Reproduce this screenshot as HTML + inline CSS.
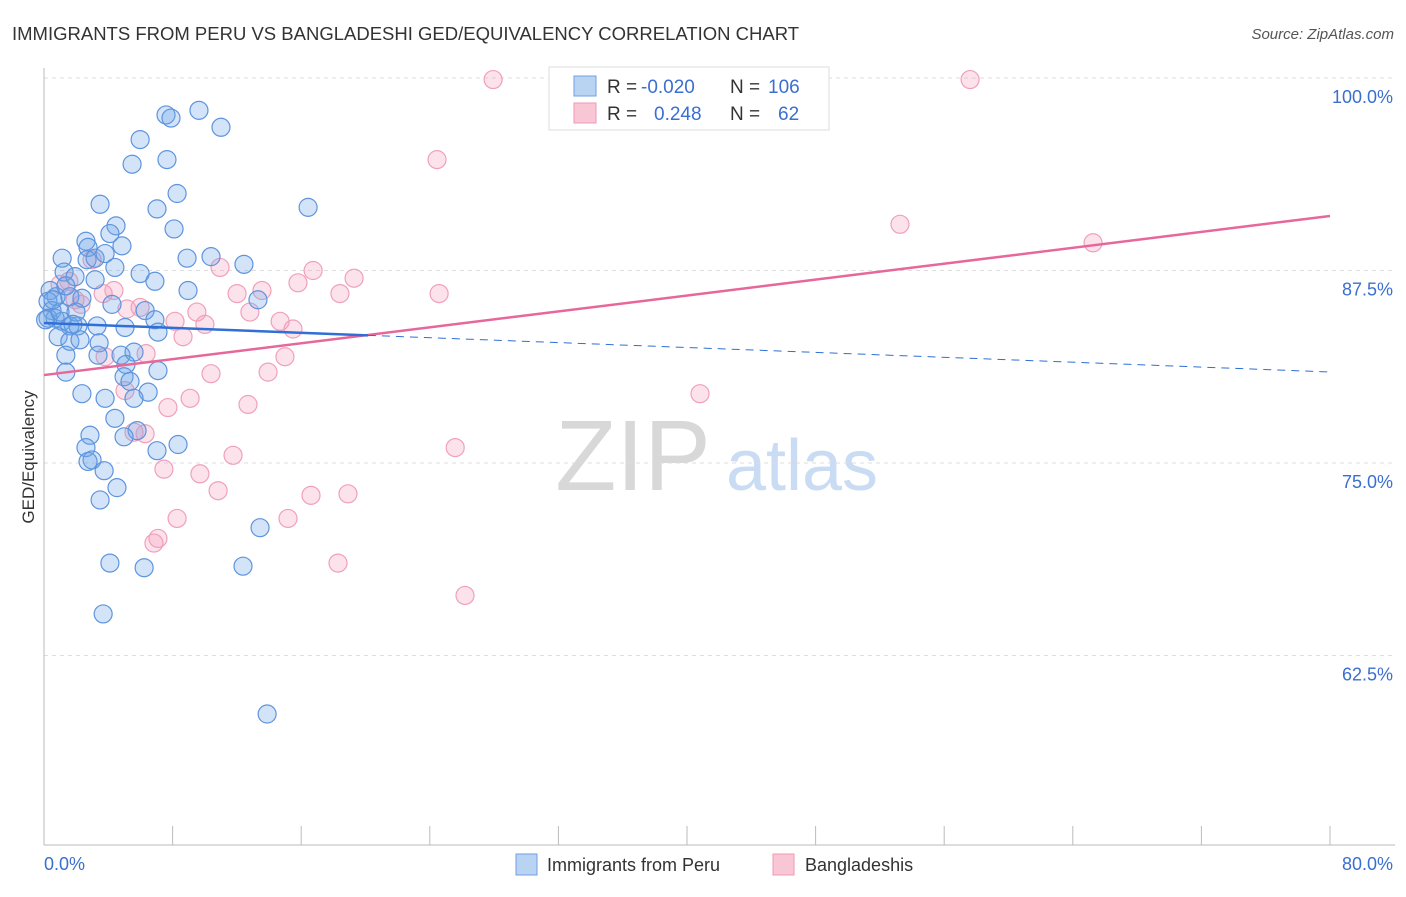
<!DOCTYPE html>
<html><head><meta charset="utf-8"><style>
body{margin:0;background:#fff;font-family:"Liberation Sans",sans-serif}
svg text{font-family:"Liberation Sans",sans-serif}
</style></head><body>
<svg id="chart" width="1406" height="892" viewBox="0 0 1406 892" xmlns="http://www.w3.org/2000/svg">
<text x="12" y="40" font-size="18.5" fill="#333">IMMIGRANTS FROM PERU VS BANGLADESHI GED/EQUIVALENCY CORRELATION CHART</text>
<text x="1394" y="39" font-size="15" fill="#555" text-anchor="end" font-style="italic">Source: ZipAtlas.com</text>
<g>
<text x="633" y="490" font-size="100" fill="#d8d8d8" text-anchor="middle" font-family="Liberation Serif, serif">ZIP</text>
<text x="802" y="490" font-size="72" fill="#c9dcf3" text-anchor="middle">atlas</text>
</g>
<g id="grid"></g>
<g id="axes"></g>
<g id="marks"></g>
<g id="trends"></g>
<text transform="translate(34,457) rotate(-90)" font-size="17" fill="#333" text-anchor="middle">GED/Equivalency</text>
<g>
<rect x="549" y="67" width="280" height="63" fill="#fff" stroke="#ddd"/>
<rect x="574" y="76" width="22" height="20" fill="#b9d3f3" stroke="#6f9fe0"/>
<rect x="574" y="103" width="22" height="20" fill="#f9c6d5" stroke="#ee9ab5"/>
<text x="607" y="93" font-size="19" fill="#333">R =</text>
<text x="641" y="93" font-size="19" fill="#3a6fd0">-0.020</text>
<text x="730" y="93" font-size="19" fill="#333">N =</text>
<text x="768" y="93" font-size="19" fill="#3a6fd0">106</text>
<text x="607" y="120" font-size="19" fill="#333">R =</text>
<text x="654" y="120" font-size="19" fill="#3a6fd0">0.248</text>
<text x="730" y="120" font-size="19" fill="#333">N =</text>
<text x="778" y="120" font-size="19" fill="#3a6fd0">62</text>
</g>
<g>
<rect x="516" y="854" width="21" height="21" fill="#b9d3f3" stroke="#6f9fe0"/>
<text x="547" y="871" font-size="18" fill="#333">Immigrants from Peru</text>
<rect x="773" y="854" width="21" height="21" fill="#f9c6d5" stroke="#ee9ab5"/>
<text x="805" y="871" font-size="18" fill="#333">Bangladeshis</text>
</g>
</svg>
<script>
const yTicks=[100,87.5,75,62.5];
const yTickLabels=["100.0%","87.5%","75.0%","62.5%"];
const xTicks=[0,8,16,24,32,40,48,56,64,72,80];
const xEndLabels=["0.0%","80.0%"];
const peruX=[7.59,7.9,9.64,11.01,5.98,5.48,7.65,8.28,7.03,8.09,3.49,4.48,4.1,2.61,2.74,4.85,1.13,2.68,3.18,3.8,4.41,5.98,1.25,1.93,3.18,6.9,8.9,10.39,12.44,16.43,8.96,13.31,0.38,0.75,1.61,2.36,4.23,6.29,0.25,0.5,0.69,1.13,1.61,2.11,3.3,5.04,6.9,7.09,0.88,1.61,2.24,3.43,1.36,3.36,4.79,5.6,5.1,1.36,4.98,5.35,7.09,2.36,6.48,3.8,5.6,4.41,5.79,4.98,2.86,2.61,2.99,2.74,3.74,4.54,3.49,7.03,8.34,13.44,4.1,6.23,12.38,3.68,13.88,0.25,0.1,1.0,1.99,0.56,1.36,1.8];
const peruY=[97.6,97.4,97.9,96.8,96.0,94.4,94.7,92.5,91.5,90.2,91.8,90.4,89.9,89.4,89.0,89.1,88.3,88.2,88.3,88.6,87.7,87.3,87.4,87.1,86.9,86.8,88.3,88.4,87.9,91.6,86.2,85.6,86.2,85.8,85.8,85.7,85.3,84.9,85.5,84.9,84.4,84.2,83.9,83.9,83.9,83.8,84.3,83.5,83.2,82.9,83.0,82.8,82.0,82.0,82.0,82.2,81.4,80.9,80.6,80.3,81.0,79.5,79.6,79.2,79.2,77.9,77.1,76.7,76.8,76.0,75.2,75.1,74.5,73.4,72.6,75.8,76.2,70.8,68.5,68.2,68.3,65.2,58.7,84.4,84.3,84.8,84.8,85.6,86.5,84.0];
const bangX=[27.94,57.61,24.45,53.25,65.26,2.99,10.95,16.74,19.29,15.8,12.01,13.56,18.41,24.58,1.55,4.35,3.68,2.3,5.16,5.98,9.51,12.81,8.15,10.01,14.69,15.49,8.65,6.35,3.8,14.99,10.39,13.94,5.04,9.09,7.71,12.69,40.81,6.29,5.6,11.76,25.58,7.46,9.7,10.83,16.61,18.91,15.18,8.28,7.09,6.84,18.29,26.19,1.0,1.93];
const bangY=[99.9,99.9,94.7,90.5,89.3,88.2,87.7,87.5,87.0,86.7,86.0,86.2,86.0,86.0,86.8,86.2,86.0,85.3,85.0,85.1,84.8,84.8,84.2,84.0,84.2,83.7,83.2,82.1,81.9,81.9,80.8,80.9,79.7,79.2,78.6,78.8,79.5,76.9,77.0,75.5,76.0,74.6,74.3,73.2,72.9,73.0,71.4,71.4,70.1,69.8,68.5,66.4,86.6,85.6];
const peruTrend=[84.09,80.91];
const bangTrend=[80.71,91.04];
const peruSolidEnd=20.15;

const NS="http://www.w3.org/2000/svg";
const X0=44,X1=1330,Y0=78;
function sx(v){return X0+(v/80)*(X1-X0);}
function sy(v){return Y0+(100-v)*15.4;}
function mk(tag,attrs,parent){const e=document.createElementNS(NS,tag);for(const k in attrs)e.setAttribute(k,attrs[k]);document.getElementById(parent).appendChild(e);return e;}

yTicks.forEach((t,i)=>{
  const g=mk('line',{x1:X0,x2:1395,y1:sy(t),y2:sy(t),stroke:'#ddd','stroke-dasharray':'4,4'},'grid');
  
  
  const l=mk('text',{x:1393,y:sy(t)+25,'font-size':18,fill:'#3a6fd0','text-anchor':'end'},'axes');
  l.textContent=yTickLabels[i];
  
  
});
const ax=mk('line',{x1:X0,x2:X0,y1:68,y2:845,stroke:'#bbb'},'axes');


const bx=mk('line',{x1:X0,x2:1395,y1:845,y2:845,stroke:'#bbb'},'axes');


xTicks.forEach(t=>{
  const tk=mk('line',{x1:sx(t),x2:sx(t),y1:826,y2:845,stroke:'#bbb'},'axes');
  
  
});
const xl0=mk('text',{x:44,y:870,'font-size':18,fill:'#3a6fd0'},'axes');
xl0.textContent=xEndLabels[0];


const xl1=mk('text',{x:1393,y:870,'font-size':18,fill:'#3a6fd0','text-anchor':'end'},'axes');
xl1.textContent=xEndLabels[1];



bangX.forEach((v,i)=>{
  const c=mk('circle',{cx:sx(v),cy:sy(bangY[i]),r:9,fill:'rgba(244,160,188,0.3)',stroke:'#f0a0bb','stroke-width':1.2},'marks');
  
  
});
peruX.forEach((v,i)=>{
  const c=mk('circle',{cx:sx(v),cy:sy(peruY[i]),r:9,fill:'rgba(110,165,232,0.3)',stroke:'#5e94de','stroke-width':1.2},'marks');
  
  
});
function ty(tr,x){return tr[0]+(tr[1]-tr[0])*x/80;}
const pt=mk('line',{x1:sx(0),y1:sy(bangTrend[0]),x2:sx(80),y2:sy(bangTrend[1]),stroke:'#e8679a','stroke-width':2.5},'trends');


const bt=mk('line',{x1:sx(0),y1:sy(peruTrend[0]),x2:sx(peruSolidEnd),y2:sy(ty(peruTrend,peruSolidEnd)),stroke:'#2f6fd6','stroke-width':2.5},'trends');


const bd=mk('line',{x1:sx(peruSolidEnd),y1:sy(ty(peruTrend,peruSolidEnd)),x2:sx(80),y2:sy(peruTrend[1]),stroke:'#2f6fd6','stroke-width':1,'stroke-dasharray':'8,6'},'trends');


</script>
</body></html>
